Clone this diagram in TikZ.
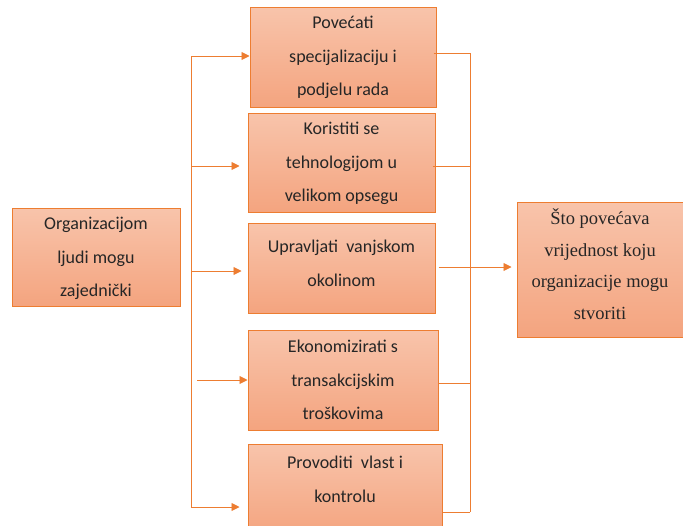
\documentclass[tikz,border=0pt]{standalone}
\usepackage{fontspec}
\setmainfont{Carlito}
\newfontfamily\serifbox{Liberation Serif}
\usetikzlibrary{calc,arrows.meta}
\definecolor{orng}{HTML}{ED7D31}
\definecolor{filltop}{HTML}{F8C4AB}
\definecolor{fillbot}{HTML}{F4A47F}
\definecolor{txtc}{HTML}{262626}
\tikzset{
  boxst/.style={draw=orng, line width=1pt, rectangle, inner sep=0pt,
    top color=filltop, bottom color=fillbot},
  txt/.style={anchor=base, inner sep=0pt, text=txtc,
    font=\fontsize{18}{33.5}\selectfont},
  txtserif/.style={anchor=base, inner sep=0pt, text=txtc,
    font=\serifbox\fontsize{18.5}{31.5}\selectfont},
  ln/.style={draw=orng, line width=0.9pt},
  arr/.style={ln, -{Triangle[length=8pt,width=8pt]}},
}
\begin{document}
\begin{tikzpicture}[x=1pt,y=-1pt]
\useasboundingbox (0,0) rectangle (683,525);
\clip (0,0) rectangle (683,525);
\fill[white] (0,0) rectangle (683,525);
% boxes
\node[boxst, minimum width=168pt, minimum height=98pt] (L) at (96,257) {};
\node[boxst, minimum width=186pt, minimum height=100pt] (b1) at (343,57) {};
\node[boxst, minimum width=187pt, minimum height=99pt] (b2) at (341.5,162.5) {};
\node[boxst, minimum width=187pt, minimum height=90pt] (b3) at (341.5,268) {};
\node[boxst, minimum width=190pt, minimum height=100pt] (b4) at (343,380) {};
\node[boxst, minimum width=194pt, minimum height=91pt] (b5) at (345,489.5) {};
\node[boxst, minimum width=173pt, minimum height=135pt] (R) at (603.5,269.5) {};
% texts
\node[txt] (tL) at ($(L.north)+(0,22)$) {\parbox[t]{160pt}{\centering Organizacijom\\ljudi mogu\\zajednički}};
\node[txt] (t1) at ($(b1.north)+(0,22)$) {\parbox[t]{180pt}{\centering Povećati\\specijalizaciju i\\podjelu rada}};
\node[txt] (t2) at ($(b2.north)+(0,22)$) {\parbox[t]{180pt}{\centering Koristiti se\\tehnologijom u\\velikom opsegu}};
\node[txt] (t3) at ($(b3.north)+(0,30)$) {\parbox[t]{180pt}{\centering Upravljati\ \ vanjskom\\okolinom}};
\node[txt] (t4) at ($(b4.north)+(0,23)$) {\parbox[t]{180pt}{\centering Ekonomizirati s\\transakcijskim\\troškovima}};
\node[txt] (t5) at ($(b5.north)+(0,25)$) {\parbox[t]{180pt}{\centering Provoditi\ \ vlast i\\kontrolu}};
\node[txtserif] (tR) at ($(R.north)+(-3.5,23)$) {\parbox[t]{166pt}{\centering Što povećava\\vrijednost koju\\organizacije mogu\\stvoriti}};
% left distribution line
\coordinate (lv1) at (191,56);
\coordinate (lv2) at (191,166);
\coordinate (lv3) at (191,271);
\coordinate (lv4) at (197,380);
\coordinate (lv5) at (191,507);
\draw[ln] (lv1) -- (lv5);
\draw[arr] (lv1) -- (lv1-|b1.west);
\draw[arr, shorten >=8pt] (lv2) -- (lv2-|b2.west);
\draw[arr, shorten >=6pt] (lv3) -- (lv3-|b3.west);
\draw[arr] (lv4) -- (lv4-|b4.west);
\draw[arr, shorten >=8pt] (lv5) -- (lv5-|b5.west);
% right collecting line
\coordinate (rv1) at (470,53);
\coordinate (rv2) at (470,166);
\coordinate (rv4) at (470,383);
\coordinate (rv5) at (470,512);
\draw[ln] (rv1) -- (rv5);
\draw[ln, shorten <=-3pt] (rv1-|b1.east) -- (rv1);
\draw[ln, shorten <=-3pt] (rv2-|b2.east) -- (rv2);
\draw[ln] (rv4-|b4.east) -- (rv4);
\draw[ln] (rv5-|b5.east) -- (rv5);
% main arrow
\draw[arr, shorten <=3pt, shorten >=5pt] ($(b3.east)+(0,-1)$) -- ($(b3.east -| R.west)+(0,-1)$);
\end{tikzpicture}
\end{document}
